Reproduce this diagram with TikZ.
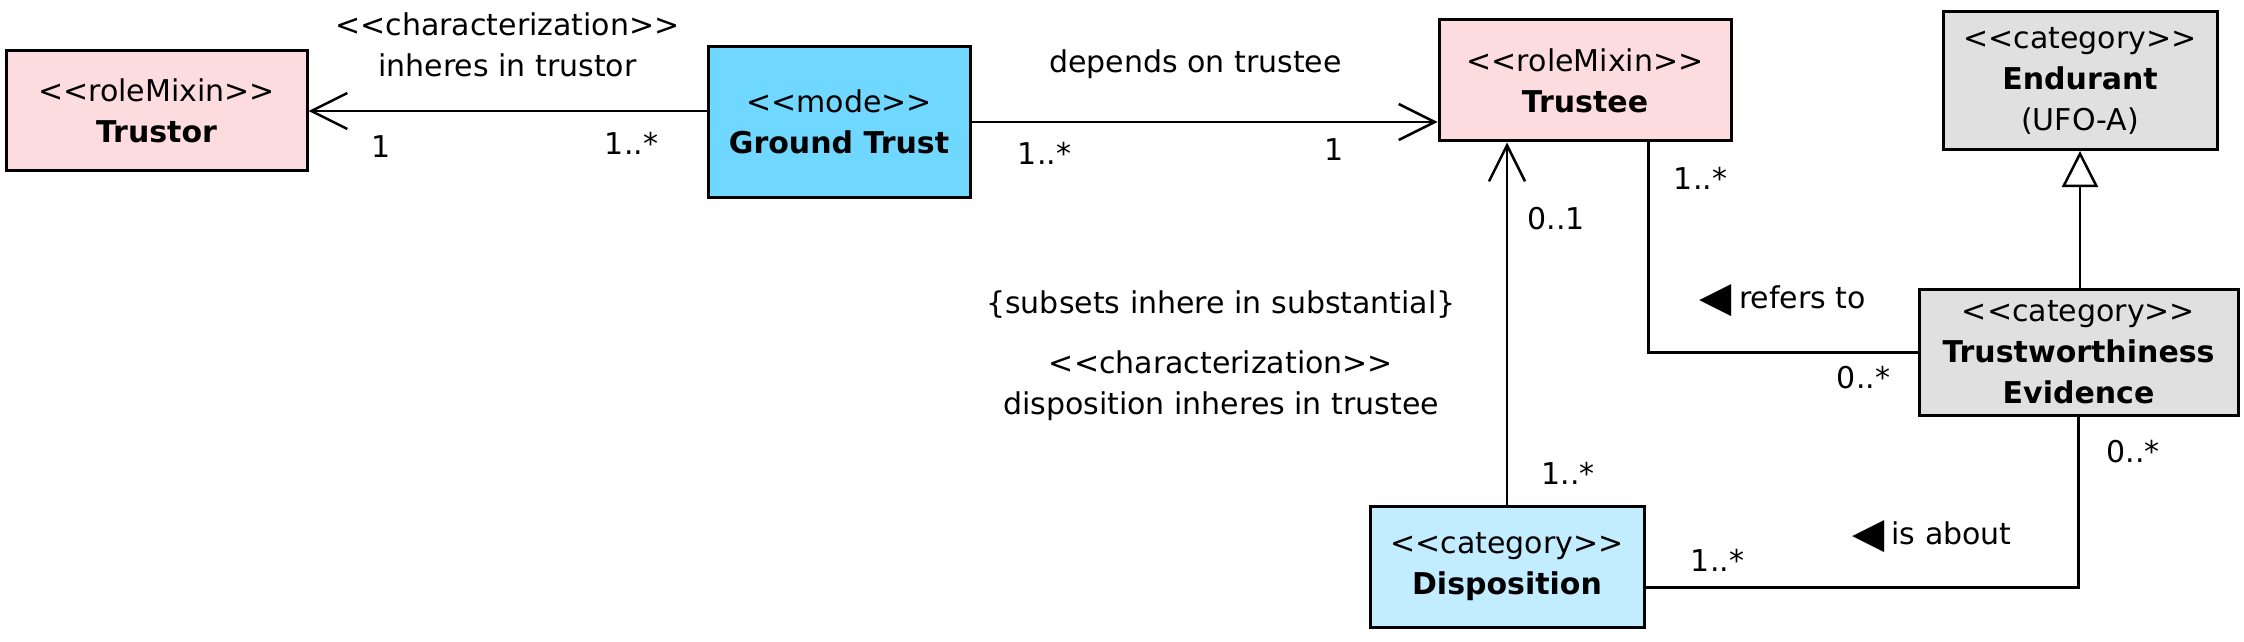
\documentclass[tikz,border=0pt]{standalone}
\usepackage{fontspec}
\setmainfont{DejaVu Sans}
\usepackage{tikz}
\usetikzlibrary{arrows.meta, positioning}
\definecolor{umlPink}{HTML}{FDDCE0}
\definecolor{umlBlue}{HTML}{70D7FF}
\definecolor{umlSky}{HTML}{C2ECFF}
\definecolor{umlGray}{HTML}{E0E0E0}
\newcommand{\stereo}[1]{<\kern0pt<#1>\kern0pt>}
\newcommand{\readleft}{\raisebox{-1.5pt}{\fontsize{21}{21}\selectfont ◀}\kern3.5pt}

\begin{document}
\begin{tikzpicture}[
  x=0.5pt, y=-0.5pt,
  font=\fontsize{15}{20.5}\selectfont,
  cls/.style={draw, line width=1.5pt, inner sep=0pt, align=center},
  assoc/.style={line width=1.25pt},
  navig/.style={-{Straight Barb[length=18pt, width=18pt]}},
  gen/.style={-{Triangle[open, length=18pt, width=18pt, fill=white]}},
  lbl/.style={inner sep=0pt, align=center},
]
  \useasboundingbox (0,0) rectangle (2244,642);

  \node[cls, fill=umlPink, minimum width=150.5pt, minimum height=60pt] (trustor) at (156.5,111)
    {\stereo{roleMixin}\\\textbf{Trustor}};
  \node[cls, fill=umlBlue, minimum width=131pt, minimum height=75pt, right=199pt of trustor, yshift=-5.5pt] (ground)
    {\stereo{mode}\\\textbf{Ground Trust}};
  \node[cls, fill=umlPink, minimum width=146pt, minimum height=60.5pt, right=233pt of ground, yshift=20.75pt] (trustee)
    {\stereo{roleMixin}\\\textbf{Trustee}};
  \node[cls, fill=umlGray, minimum width=137pt, minimum height=69pt, right=104.5pt of trustee] (endurant)
    {\stereo{category}\\\textbf{Endurant}\\(UFO-A)};
  \node[cls, fill=umlGray, minimum width=159.5pt, minimum height=63pt, below=68.5pt of endurant, xshift=-0.75pt] (evidence)
    {\stereo{category}\\\textbf{Trustworthiness}\\\textbf{Evidence}};
  \node[cls, fill=umlSky, minimum width=137pt, minimum height=60.5pt, below=181pt of trustee, xshift=-39pt] (disp)
    {\stereo{category}\\\textbf{Disposition}};

  \draw[assoc, navig] (trustor.east -| ground.west) -- (trustor.east)
    node[lbl, at start, xshift=-37.5pt, yshift=-16pt] {1..*}
    node[lbl, at end, xshift=36.5pt, yshift=-18pt] {1}
    node[lbl, midway, yshift=33pt] {\stereo{characterization}\\inheres in trustor};
  \draw[assoc, navig] (ground.east) -- (ground.east -| trustee.west)
    node[lbl, midway, xshift=-4.5pt, yshift=29pt] {depends on trustee}
    node[lbl, at start, xshift=36.5pt, yshift=-15.5pt] {1..*}
    node[lbl, at end, xshift=-51.5pt, yshift=-14pt] {1};
  \draw[assoc, navig] (disp.north) -- (disp.north |- trustee.south)
    node[lbl, at start, xshift=30.5pt, yshift=15.5pt] {1..*}
    node[lbl, at end, xshift=24.5pt, yshift=-38pt] {0..1}
    node[lbl, midway, xshift=-143pt, yshift=9.5pt] {\{subsets inhere in substantial\}}
    node[lbl, midway, xshift=-143pt, yshift=-31.25pt] {\stereo{characterization}\\disposition inheres in trustee};
  \draw[assoc] ([xshift=-42pt]trustee.south east) |- (evidence.west)
    node[lbl, at start, xshift=26pt, yshift=-18pt] {1..*}
    node[lbl, pos=0.75, yshift=26pt] {\readleft refers to}
    node[lbl, at end, xshift=-27pt, yshift=-12.5pt] {0..*};
  \draw[assoc] ([yshift=-10.5pt]disp.east) -| (evidence.south)
    node[lbl, at start, xshift=36pt, yshift=13.5pt] {1..*}
    node[lbl, pos=0.25, xshift=35pt, yshift=25.5pt] {\readleft is about}
    node[lbl, at end, xshift=27.25pt, yshift=-17.5pt] {0..*};
  \draw[assoc, gen] (endurant.south |- evidence.north) -- (endurant.south);
\end{tikzpicture}
\end{document}
